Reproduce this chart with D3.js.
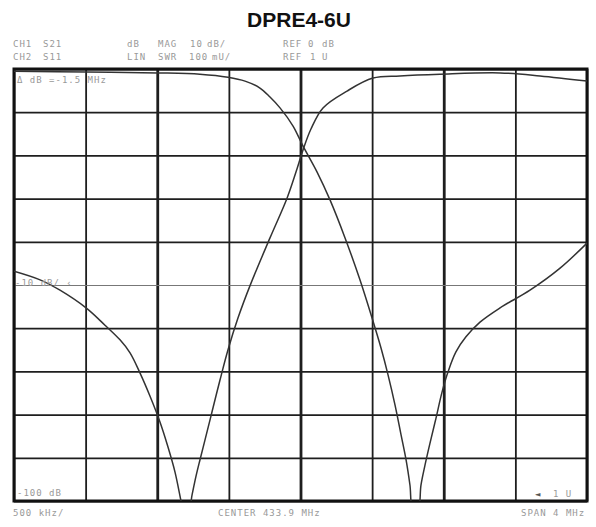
<!DOCTYPE html>
<html>
<head>
<meta charset="utf-8">
<script src="https://cdn.jsdelivr.net/npm/d3@7"></script>
<style>
  html, body { margin: 0; padding: 0; background: #fff; }
  svg { display: block; }
  .lbl { font-family: "DejaVu Sans Mono", "Liberation Mono", monospace; font-size: 9px; letter-spacing: 1px; fill: #999; }
</style>
</head>
<body>
<script>
// ---- data ----
const title = "DPRE4-6U";
const freqA = [431.900, 432.403, 432.905, 433.198, 433.394, 433.513, 433.617, 433.687, 433.757, 433.848, 433.917, 434.015, 434.106, 434.211, 434.315, 434.399, 434.462, 434.511, 434.560, 434.602, 434.637, 434.664, 434.685, 434.720, 434.741, 434.769, 434.804, 434.846, 434.888, 434.930, 434.985, 435.055, 435.153, 435.293, 435.502, 435.712, 435.900];
const dbA   = [-0.5, -0.7, -0.9, -1.2, -1.9, -2.8, -4.4, -6.5, -9.0, -13.2, -17.8, -23.8, -30.3, -39.1, -48.8, -57.6, -64.6, -70.8, -77.8, -84.7, -90.5, -96.3, -102, -102, -96.3, -91.7, -86.6, -80.8, -74.8, -70.1, -65.5, -62.0, -58.6, -55.3, -51.2, -46.1, -40.3];
const freqB = [431.900, 432.082, 432.221, 432.403, 432.535, 432.640, 432.710, 432.780, 432.849, 432.919, 432.975, 433.024, 433.066, 433.087, 433.115, 433.143, 433.171, 433.198, 433.233, 433.282, 433.338, 433.394, 433.464, 433.547, 433.687, 433.806, 433.869, 433.917, 433.973, 434.057, 434.225, 434.406, 434.594, 434.874, 435.293, 435.572, 435.900];
const dbB   = [-46.8, -48.8, -51.2, -55.3, -59.3, -62.7, -65.7, -70.4, -75.7, -81.7, -87.5, -93.3, -100, -103.2, -103.2, -98.6, -94.2, -90.5, -85.9, -79.4, -72.0, -65.0, -57.6, -50.2, -39.1, -29.9, -23.8, -18.8, -13.9, -9.0, -5.1, -2.1, -1.6, -1.2, -0.9, -1.6, -2.8];
const freqTicks = [431.9, 432.4, 432.9, 433.4, 433.9, 434.4, 434.9, 435.4, 435.9];
const majorFreqTicks = [432.9, 433.9, 434.9];
const dbTicks = [0, -10, -20, -30, -40, -50, -60, -70, -80, -90, -100];
const refDbTick = -50;
const headerRow1 = ["CH1", "S21", "dB", "MAG", "10", "dB/", "REF", "0", "dB"];
const headerRow2 = ["CH2", "S11", "LIN", "SWR", "100", "mU/", "REF", "1", "U"];
const headerX1 = [13, 43, 127, 158, 190, 207, 283, 308, 322];
const headerX2 = [13, 43, 127, 158, 189, 212, 283, 310, 322];

// ---- layout ----
const W = 596, H = 527;
const L = 14, R = 587, T = 69, B = 501;

const svg = d3.select("body").append("svg").attr("width", W).attr("height", H);

const x = d3.scaleLinear().domain([431.9, 435.9]).range([L, R]);
const y = d3.scaleLinear().domain([-100, 0]).range([B, T]);

// title
svg.append("text").attr("x", 299).attr("y", 27).attr("text-anchor", "middle")
  .style("font-family", "'Liberation Sans', Arial, sans-serif").style("font-weight", "bold")
  .style("font-size", "21px").attr("fill", "#111").text(title);

// header
[[headerRow1, headerX1], [headerRow2, headerX2]].forEach(([row, xs], r) => {
  row.forEach((t, i) => {
    svg.append("text").attr("class", "lbl").attr("x", xs[i]).attr("y", 47 + r * 13).text(t);
  });
});

// grid via axes
const gx = svg.append("g").attr("transform", `translate(0,${B})`)
  .call(d3.axisBottom(x).tickValues(freqTicks).tickSize(-(B - T)).tickFormat(""));
gx.select(".domain").remove();
gx.selectAll(".tick line").attr("stroke", "#1e1e1e")
  .attr("stroke-width", d => majorFreqTicks.some(m => Math.abs(m - d) < 1e-6) ? 2.8 : 1.8);

const gy = svg.append("g").attr("transform", `translate(${L},0)`)
  .call(d3.axisLeft(y).tickValues(dbTicks).tickSize(-(R - L)).tickFormat(""));
gy.select(".domain").remove();
gy.selectAll(".tick line").attr("stroke", d => d === refDbTick ? "#777" : "#1e1e1e")
  .attr("stroke-width", d => d === refDbTick ? 1 : 1.8);

// border
svg.append("rect").attr("x", L).attr("y", T).attr("width", R - L).attr("height", B - T)
  .attr("fill", "none").attr("stroke", "#111").attr("stroke-width", 3);

// clip
svg.append("clipPath").attr("id", "clip").append("rect")
  .attr("x", L).attr("y", T).attr("width", R - L).attr("height", B - T);

const line = d3.line().x(d => x(d[0])).y(d => y(d[1])).curve(d3.curveCatmullRom.alpha(0.5));
const seriesA = freqA.map((f, i) => [f, dbA[i]]);
const seriesB = freqB.map((f, i) => [f, dbB[i]]);
[seriesA, seriesB].forEach(s => {
  svg.append("path").datum(s).attr("clip-path", "url(#clip)")
    .attr("d", line).attr("fill", "none").attr("stroke", "#333").attr("stroke-width", 1.5);
});

// in-plot annotations
svg.append("text").attr("class", "lbl").attr("x", 17).attr("y", 83).text("Δ dB =-1.5 MHz");
svg.append("text").attr("class", "lbl").attr("x", 15).attr("y", 286).text("-10 dB/ ‹");
svg.append("text").attr("class", "lbl").attr("x", 17).attr("y", 496).text("-100 dB");
svg.append("text").attr("class", "lbl").attr("x", 535).attr("y", 497).style("fill", "#555").text("◄");
svg.append("text").attr("class", "lbl").attr("x", 553).attr("y", 497).text("1 U");

// below plot
svg.append("text").attr("class", "lbl").attr("x", 13).attr("y", 516).text("500 kHz/");
svg.append("text").attr("class", "lbl").attr("x", 218).attr("y", 516).text("CENTER 433.9 MHz");
svg.append("text").attr("class", "lbl").attr("x", 521).attr("y", 516).text("SPAN 4 MHz");
</script>
</body>
</html>
